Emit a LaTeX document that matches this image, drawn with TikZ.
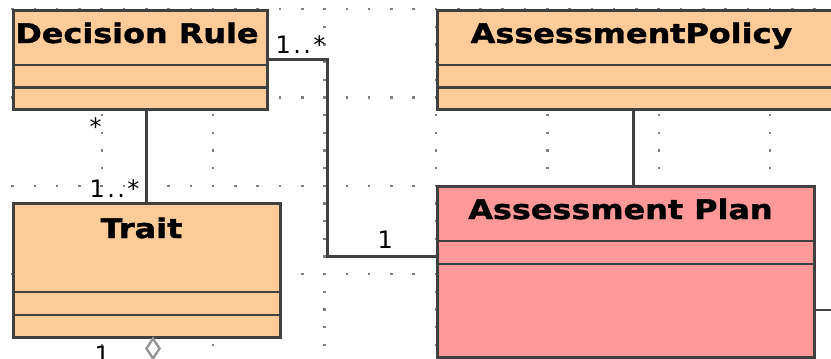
\documentclass[tikz,border=0pt]{standalone}
\usepackage{fontspec}
\newfontfamily\classfont[FakeStretch=1.18, FakeBold=1.6]{DejaVu Sans}
\newfontfamily\multfont[LetterSpace=10]{DejaVu Sans}
\usetikzlibrary{shapes.geometric}
\begin{document}
\begin{tikzpicture}[x=1pt, y=-1pt,
  classbox/.style={draw=edge, line width=3pt, fill=classfill, anchor=north west, inner sep=0pt, outer sep=0pt},
  classname/.style={anchor=base, inner sep=0pt, text=black, font=\classfont\bfseries\fontsize{27}{27}\selectfont},
  compline/.style={draw=edge, line width=2.2pt},
  assoc/.style={draw=edge, line width=2.6pt},
  mult/.style={anchor=base west, inner sep=0pt, text=black, font=\multfont\fontsize{24}{24}\selectfont},
  aggr/.style={diamond, draw=edge!55, line width=2.4pt, fill=white, inner sep=0pt, minimum width=14pt, minimum height=21pt}]
\definecolor{classfill}{HTML}{FFCC99}
\definecolor{planfill}{HTML}{FF9999}
\definecolor{edge}{HTML}{404040}
\definecolor{griddot}{HTML}{7F7F7F}
\useasboundingbox (0,0) rectangle (831,359);
\clip (0,0) rectangle (831,359);
\foreach \row in {9.2,97.5,185.8,274.1}
  \foreach \k in {0,...,37}
    \fill[griddot] ({12.6+22.28*\k-1.3},{\row-1.2}) rectangle ++(2.6,2.4);
\foreach \col in {101.7,213.1,324.5,435.9,547.3,658.7,770.1}
  \foreach \k in {0,...,19}
    \fill[griddot] ({\col-1.2},{9.2+17.66*\k-1.2}) rectangle ++(2.4,2.4);
\node[classbox, minimum width=254pt, minimum height=99pt] (rule) at (13,10) {};
\draw[compline] ([yshift=-55pt]rule.north west) -- ([yshift=-55pt]rule.north east);
\draw[compline] ([yshift=-77.5pt]rule.north west) -- ([yshift=-77.5pt]rule.north east);
\node[classname] (rulename) at (137,43) {Decision Rule};
\node[classbox, minimum width=420pt, minimum height=99pt] (policy) at (437,10) {};
\draw[compline] ([yshift=-55pt]policy.north west) -- ([yshift=-55pt]policy.north east);
\draw[compline] ([yshift=-77.5pt]policy.north west) -- ([yshift=-77.5pt]policy.north east);
\node[classname] (policyname) at (631.5,43) {AssessmentPolicy};
\node[classbox, fill=planfill, minimum width=377pt, minimum height=171pt] (plan) at (437.5,186.3) {};
\draw[compline] ([yshift=-55pt]plan.north west) -- ([yshift=-55pt]plan.north east);
\draw[compline] ([yshift=-78pt]plan.north west) -- ([yshift=-78pt]plan.north east);
\node[classname] (planname) at (620.5,219) {Assessment Plan};
\node[classbox, minimum width=267.5pt, minimum height=133.5pt] (trait) at (13,203.5) {};
\draw[compline] ([yshift=-88.7pt]trait.north west) -- ([yshift=-88.7pt]trait.north east);
\draw[compline] ([yshift=-111.5pt]trait.north west) -- ([yshift=-111.5pt]trait.north east);
\node[classname] (traitname) at (141.5,238) {Trait};
\coordinate (bend) at (327.7,256.2);
\coordinate (offright) at (845,310);
\draw[assoc] (trait.north) -- (trait.north |- rule.south);
\draw[assoc] (rule.east) -| (bend) -- (bend -| plan.west);
\draw[assoc] ([xshift=7.4pt]plan.north) -- ([xshift=7.4pt]plan.north |- policy.south);
\draw[assoc] (plan.east |- offright) -- (offright);
\node[aggr] (traitdiamond) at (153,348.5) {};
\node[mult] (rulemult) at (275.5,53) {1..*};
\node[mult] (ruletraitmult) at (89.5,135) {*};
\node[mult] (traitrulemult) at (89.5,197) {1..*};
\node[mult] (planmult) at (377.5,248) {1};
\node[mult] (traitmult) at (94.5,363) {1};
\end{tikzpicture}
\end{document}
